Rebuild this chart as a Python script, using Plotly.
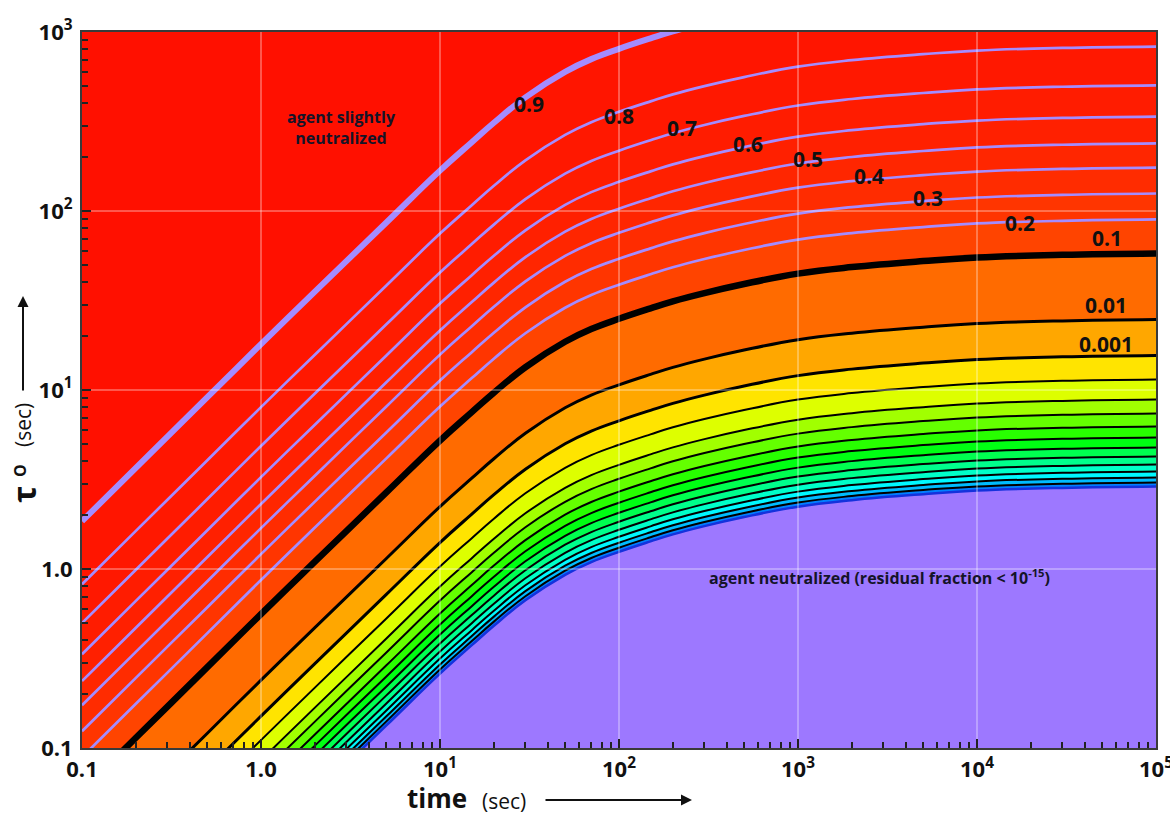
import colorsys
import numpy as np
import plotly.graph_objects as go

# ---------------- data ----------------
# residual-fraction 0.1 contour (thick black line): time (s) -> tau_O (s)
ref_t = [0.1, 0.2, 0.5, 1, 2, 5, 10, 15, 20, 30, 50, 70, 100, 150, 200, 300, 500,
         1000, 2000, 5000, 1e4, 3e4, 1e5]
ref_tau = [0.0574, 0.114, 0.282, 0.560, 1.10, 2.67, 5.22, 7.5, 9.66, 13.4, 18.6,
           21.9, 25.0, 28.6, 31.3, 34.8, 39.1, 44.7, 48.6, 52.5, 55.0, 56.9, 57.9]

# contours above the 0.1 line: vertical offset (decades of tau) read at the right edge
upper_levels = [0.9, 0.8, 0.7, 0.6, 0.5, 0.4, 0.3, 0.2]
upper_shift_dec = [1.508, 1.156, 0.939, 0.765, 0.615, 0.480, 0.335, 0.190]
base_level = 0.1
# contours below the 0.1 line
lower_levels = [1e-2, 1e-3, 1e-4, 1e-5, 1e-6, 1e-7, 1e-8, 1e-9, 1e-10,
                1e-11, 1e-12, 1e-13, 1e-14, 1e-15]
lower_shift_dec = [-0.369, -0.570, -0.704, -0.816, -0.894, -0.966, -1.028,
                   -1.084, -1.134, -1.179, -1.218, -1.251, -1.279, -1.302]

# contour labels
label_text = ["0.9", "0.8", "0.7", "0.6", "0.5", "0.4", "0.3", "0.2", "0.1", "0.01", "0.001"]
label_t = [31.4, 100, 225, 526, 1138, 2495, 5320, 17400, 53200, 52600, 52600]
label_tau = [396, 340, 292, 238, 196, 156, 118, 85.7, 71, 30, 18.1]

# axes
x_tick_vals = [0.1, 1, 10, 100, 1000, 10000, 100000]
x_tick_text = ["0.1", "1.0", "10<sup>1</sup>", "10<sup>2</sup>", "10<sup>3</sup>",
               "10<sup>4</sup>", "10<sup>5</sup>"]
y_tick_vals = [0.1, 1, 10, 100, 1000]
y_tick_text = ["0.1", "1.0", "10<sup>1</sup>", "10<sup>2</sup>", "10<sup>3</sup>"]
x_range = [0.1, 1e5]
y_range = [0.1, 1e3]
floor_tau = 1e-4

# ---------------- build ----------------
levels = upper_levels + [base_level] + lower_levels
shifts = upper_shift_dec + [0.0] + lower_shift_dec
ref_tau_arr = np.array(ref_tau)
curves = [ref_tau_arr * 10 ** s for s in shifts]


def frac_color(f):
    n = -np.log10(f)
    hue = (4 + 14.2 * n) / 360.0
    r, g, b = colorsys.hsv_to_rgb(min(hue, 1.0), 1.0, 1.0)
    return f"rgb({int(r*255)},{int(g*255)},{int(b*255)})"


PURPLE_FILL = "rgb(157,120,255)"
PURPLE_LINE = "rgb(164,140,255)"
FONT = "Open Sans"
SMOOTH = 1.2

fig = go.Figure()

# filled bands between successive contours
fig.add_trace(go.Scatter(x=ref_t, y=curves[0], mode="lines",
                         line=dict(width=0, shape="spline", smoothing=SMOOTH),
                         hoverinfo="skip", showlegend=False))
for i in range(1, len(levels)):
    fmid = np.sqrt(levels[i - 1] * levels[i])
    fig.add_trace(go.Scatter(x=ref_t, y=curves[i], mode="lines",
                             line=dict(width=0, shape="spline", smoothing=SMOOTH),
                             fill="tonexty", fillcolor=frac_color(fmid),
                             hoverinfo="skip", showlegend=False))
fig.add_trace(go.Scatter(x=[ref_t[0], ref_t[-1]], y=[floor_tau, floor_tau], mode="lines",
                         line=dict(width=0), fill="tonexty", fillcolor=PURPLE_FILL,
                         hoverinfo="skip", showlegend=False))

# contour lines
for lev, cur in zip(levels, curves):
    if lev == 0.9:
        col, w = PURPLE_LINE, 6
    elif lev > 0.1:
        col, w = PURPLE_LINE, 2.7
    elif lev == 0.1:
        col, w = "black", 6.5
    elif lev >= 1e-3:
        col, w = "black", 3
    elif lev == 1e-15:
        col, w = "rgb(20,50,220)", 2.5
    else:
        col, w = "black", 2
    fig.add_trace(go.Scatter(x=ref_t, y=cur, mode="lines",
                             line=dict(color=col, width=w, shape="spline", smoothing=SMOOTH),
                             hoverinfo="skip", showlegend=False))

# white grid lines on top
grid_col = "rgba(255,255,255,0.6)"
for v in x_tick_vals[1:-1]:
    fig.add_trace(go.Scatter(x=[v, v], y=y_range, mode="lines",
                             line=dict(color=grid_col, width=1),
                             hoverinfo="skip", showlegend=False))
for v in y_tick_vals[1:-1]:
    fig.add_trace(go.Scatter(x=x_range, y=[v, v], mode="lines",
                             line=dict(color=grid_col, width=1),
                             hoverinfo="skip", showlegend=False))

# contour labels
annotations = []
for txt, t, tau in zip(label_text, label_t, label_tau):
    annotations.append(dict(x=np.log10(t), y=np.log10(tau), xref="x", yref="y",
                            xanchor="center", yanchor="middle",
                            text=f"<b>{txt}</b>", showarrow=False,
                            font=dict(family=FONT, size=21, color="#111")))

L, R, T, B = 82, 14, 32, 68
W, H = 1170, 816
PW, PH = W - L - R, H - T - B


def px(xp):
    return (xp - L) / PW


def py(yp):
    return (H - B - yp) / PH


def note(x, y, text, size, weight="bold", angle=0, color="#111"):
    return dict(x=px(x), y=py(y), xref="paper", yref="paper", showarrow=False,
                xanchor="center", yanchor="middle", textangle=angle, text=text,
                font=dict(family=FONT, size=size, color=color, weight=weight))


annotations += [
    note(341, 128, "agent slightly<br>neutralized", 16, color="#141428"),
    note(879, 577, "agent neutralized (residual fraction &lt; 10<sup>-15</sup>)", 16,
         color="#141428"),
    # x title
    note(437, 798, "time", 26),
    note(504, 801, "(sec)", 21, weight="normal"),
    dict(x=px(692), y=py(800), xref="paper", yref="paper", showarrow=True,
         ax=-148, ay=0, text="", arrowhead=2, arrowsize=1.1, arrowwidth=2,
         arrowcolor="#111"),
    # y title
    note(23, 495, "τ", 32, angle=-90),
    note(20, 471, "O", 16, angle=-90),
    note(23, 425, "(sec)", 21, weight="normal", angle=-90),
    dict(x=px(23), y=py(296), xref="paper", yref="paper", showarrow=True,
         ax=0, ay=96, text="", arrowhead=2, arrowsize=1.1, arrowwidth=2,
         arrowcolor="#111"),
]


def minor_vals(lo_exp, hi_exp):
    return [k * 10.0 ** e for e in range(lo_exp, hi_exp) for k in range(2, 10)]


axis_common = dict(type="log", showgrid=False, zeroline=False, ticks="inside",
                   ticklen=9, tickwidth=1.5, tickcolor="#222", showline=True,
                   linecolor="#3a3a3a", linewidth=2, mirror=True,
                   tickfont=dict(family=FONT, size=22, color="#111", weight="bold"),
                   automargin=False, tickmode="array", ticklabeloverflow="allow")

fig.update_layout(
    width=W, height=H,
    margin=dict(l=L, r=R, t=T, b=B),
    paper_bgcolor="white",
    plot_bgcolor=frac_color(1.0),
    xaxis=dict(axis_common, range=[np.log10(x_range[0]), np.log10(x_range[1])],
               tickvals=x_tick_vals, ticktext=x_tick_text, ticklabelstandoff=1,
               minor=dict(tickmode="array", tickvals=minor_vals(-1, 5), ticks="inside",
                          ticklen=6, tickwidth=1.5, tickcolor="#222", showgrid=False)),
    yaxis=dict(axis_common, range=[np.log10(y_range[0]), np.log10(y_range[1])],
               tickvals=y_tick_vals, ticktext=y_tick_text, ticklabelstandoff=3,
               minor=dict(tickmode="array", tickvals=minor_vals(-1, 3), ticks="inside",
                          ticklen=6, tickwidth=1.5, tickcolor="#222", showgrid=False)),
    annotations=annotations,
    showlegend=False,
)

fig.write_html("out.html", config={"displayModeBar": False},
               post_script="document.body.style.margin='0';document.body.style.overflow='hidden';")
